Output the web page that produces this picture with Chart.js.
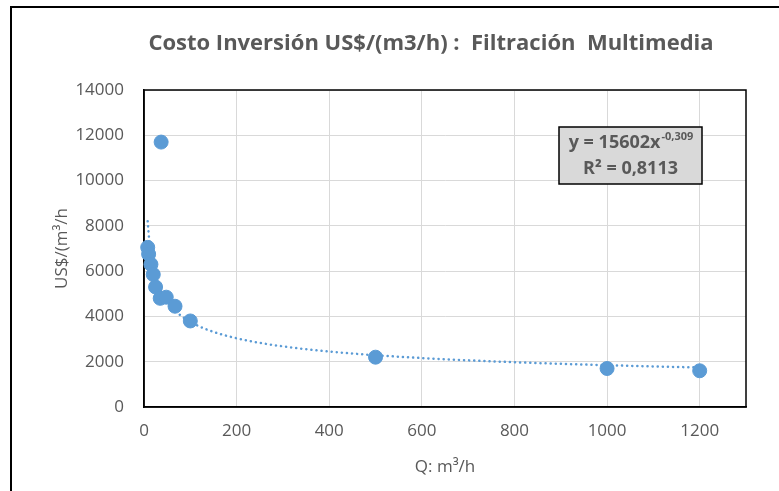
<!DOCTYPE html>
<html lang="es">
<head>
    <meta charset="UTF-8">
    <title>Costo Inversión Filtración Multimedia</title>
    <script src="https://cdn.jsdelivr.net/npm/chart.js"></script>
    <style>
        body {
            margin: 0;
            padding: 0;
            background-color: #fff;
            font-family: "Open Sans", sans-serif;
        }
        .frame {
            position: absolute;
            left: 10px;
            top: 6px;
            right: 0;
            bottom: 0;
            border-left: 2px solid #000;
            border-top: 2px solid #000;
        }
        #chart {
            position: absolute;
            left: 0;
            top: 0;
        }
    </style>
</head>
<body>
    <div class="frame"></div>
    <canvas id="chart" width="779" height="491"></canvas>

    <script>
        // Caudal (m3/h) y costo de inversión (US$ por m3/h)
        const caudal = [8, 10, 15, 20, 25, 35, 37, 48, 67, 100, 500, 1000, 1200];
        const costo = [7050, 6750, 6300, 5850, 5300, 4800, 11700, 4850, 4450, 3800, 2200, 1700, 1600];

        // marcas de los ejes
        const xTicks = [0, 200, 400, 600, 800, 1000, 1200];
        const yTicks = [0, 2000, 4000, 6000, 8000, 10000, 12000, 14000];

        // Ajuste potencial y = a * x^b
        const coefA = 15602;
        const coefB = -0.309;
        const r2Text = '0,8113';
        const trendFrom = 8;
        const trendTo = 1200;

        const titulo = 'Costo Inversión US$/(m3/h) :  Filtración  Multimedia';
        const gray = '#595959';
        const blue = '#5b9bd5';

        const puntos = caudal.map((q, i) => ({ x: q, y: costo[i] }));

        // curva de tendencia, muestreada en escala logarítmica
        const tendencia = [];
        const nSteps = 120;
        for (let i = 0; i <= nSteps; i++) {
            const q = trendFrom * Math.pow(trendTo / trendFrom, i / nSteps);
            tendencia.push({ x: q, y: coefA * Math.pow(q, coefB) });
        }

        const chartTitle = {
            id: 'chartTitle',
            afterDraw(chart) {
                const ctx = chart.ctx;
                ctx.save();
                ctx.fillStyle = gray;
                ctx.font = 'bold 22px "Open Sans"';
                ctx.textAlign = 'center';
                ctx.textBaseline = 'middle';
                ctx.fillText(titulo, 431, 44);
                ctx.restore();
            }
        };

        const plotBorder = {
            id: 'plotBorder',
            beforeDatasetsDraw(chart) {
                const { ctx, chartArea: a } = chart;
                ctx.save();
                ctx.strokeStyle = '#000';
                ctx.lineWidth = 1.5;
                ctx.strokeRect(a.left, a.top, a.right - a.left, a.bottom - a.top);
                ctx.restore();
            }
        };

        const equationBox = {
            id: 'equationBox',
            afterDraw(chart) {
                const { ctx, chartArea: a } = chart;
                const left = a.right - 187, top = a.top + 37, w = 143, h = 57;
                ctx.save();
                ctx.fillStyle = '#d9d9d9';
                ctx.fillRect(left, top, w, h);
                ctx.strokeStyle = '#000';
                ctx.lineWidth = 1.5;
                ctx.strokeRect(left, top, w, h);

                ctx.fillStyle = gray;
                ctx.textBaseline = 'middle';
                const main = 'y = ' + coefA + 'x';
                const sup = coefB.toString().replace('.', ',');
                ctx.font = 'bold 18px "Open Sans"';
                const mainW = ctx.measureText(main).width;
                ctx.font = 'bold 11px "Open Sans"';
                const supW = ctx.measureText(sup).width;
                const x0 = left + (w - mainW - supW) / 2;
                ctx.font = 'bold 18px "Open Sans"';
                ctx.fillText(main, x0, top + 16);
                ctx.font = 'bold 11px "Open Sans"';
                ctx.fillText(sup, x0 + mainW + 1, top + 10);

                ctx.font = 'bold 18px "Open Sans"';
                ctx.textAlign = 'center';
                ctx.fillText('R² = ' + r2Text, left + w / 2, top + 42);
                ctx.restore();
            }
        };

        new Chart(document.getElementById('chart'), {
            type: 'scatter',
            data: {
                datasets: [
                    {
                        label: 'Costo',
                        data: puntos,
                        backgroundColor: blue,
                        borderColor: blue,
                        pointRadius: 7,
                        pointHoverRadius: 7,
                        clip: false,
                        order: 0
                    },
                    {
                        label: 'Tendencia',
                        data: tendencia,
                        showLine: true,
                        borderColor: blue,
                        borderWidth: 2.5,
                        borderDash: [0.1, 5],
                        borderCapStyle: 'round',
                        pointRadius: 0,
                        fill: false,
                        clip: false,
                        order: 1
                    }
                ]
            },
            options: {
                responsive: false,
                animation: false,
                layout: { padding: { left: 0, right: 33, top: 90, bottom: 0 } },
                plugins: {
                    legend: { display: false },
                    tooltip: { enabled: false },
                    title: { display: false }
                },
                scales: {
                    x: {
                        type: 'linear',
                        min: 0,
                        max: 1300,
                        afterBuildTicks: s => { s.ticks = xTicks.map(v => ({ value: v })); },
                        afterFit: s => { s.height = 84; },
                        ticks: {
                            color: gray,
                            padding: 14,
                            font: { family: 'Open Sans', size: 17 },
                            callback: v => String(v)
                        },
                        grid: { color: '#d9d9d9', drawTicks: false },
                        border: { color: '#000', width: 1.5 },
                        title: {
                            display: true,
                            text: 'Q: m³/h',
                            color: gray,
                            font: { family: 'Open Sans', size: 17 },
                            padding: { top: 0, bottom: 14 }
                        }
                    },
                    y: {
                        min: 0,
                        max: 14000,
                        afterBuildTicks: s => { s.ticks = yTicks.map(v => ({ value: v })); },
                        afterFit: s => { s.width = 144; },
                        ticks: {
                            color: gray,
                            padding: 20,
                            font: { family: 'Open Sans', size: 17 },
                            callback: v => String(v)
                        },
                        grid: { color: '#d9d9d9', drawTicks: false },
                        border: { color: '#000', width: 1.5 },
                        title: {
                            display: true,
                            text: 'US$/(m³/h',
                            color: gray,
                            font: { family: 'Open Sans', size: 17 },
                            padding: { top: 52, bottom: 0 }
                        }
                    }
                }
            },
            plugins: [plotBorder, equationBox, chartTitle]
        });
    </script>
</body>
</html>
